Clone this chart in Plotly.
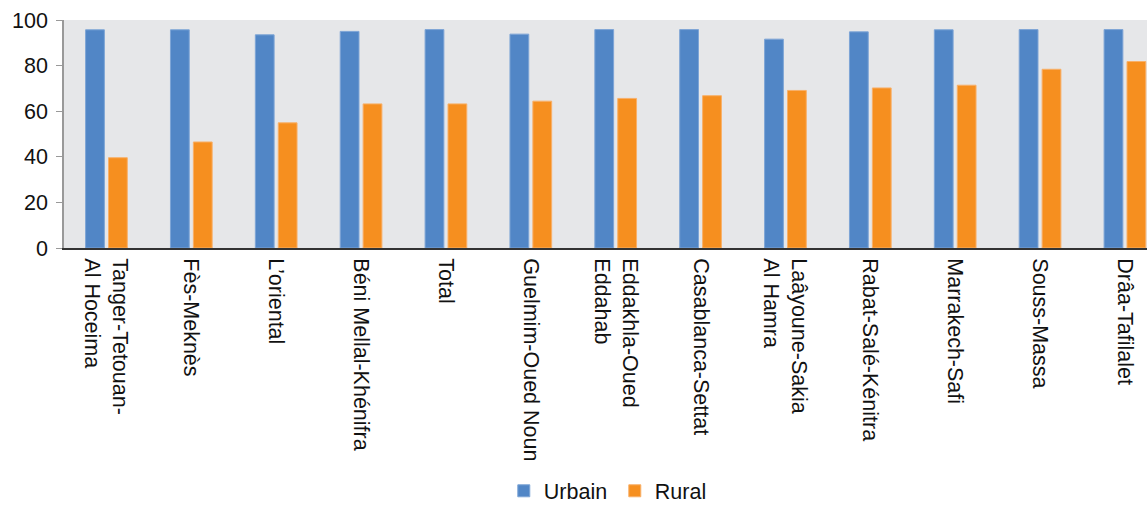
import plotly.graph_objects as go

categories = [
    "Tanger-Tetouan-<br>Al Hoceima", "Fès-Meknès", "L’oriental", "Béni Mellal-Khénifra",
    "Total", "Guelmim-Oued Noun", "Eddakhla-Oued<br>Eddahab", "Casablanca-Settat",
    "Laâyoune-Sakia<br>Al Hamra", "Rabat-Salé-Kénitra", "Marrakech-Safi",
    "Souss-Massa", "Drâa-Tafilalet",
]
urbain = [95.7, 95.7, 93.5, 95.0, 95.8, 93.8, 95.8, 95.8, 91.6, 94.8, 95.7, 95.8, 95.8]
rural = [39.6, 46.5, 54.9, 63.2, 63.2, 64.4, 65.6, 66.8, 69.1, 70.2, 71.4, 78.4, 81.8]

BLUE = "#5186c6"
ORANGE = "#f68f1f"
FONT = "Liberation Sans, Arial, sans-serif"

fig = go.Figure()
fig.add_trace(go.Bar(x=categories, y=urbain, name="Urbain", marker=dict(color=BLUE, line=dict(color="#7ea5d6", width=1))))
fig.add_trace(go.Bar(x=categories, y=rural, name="Rural", marker=dict(color=ORANGE, line=dict(color="#f8b069", width=1))))

fig.update_layout(
    width=1147, height=506,
    margin=dict(l=64, r=0, t=20, b=258, autoexpand=False),
    paper_bgcolor="white",
    plot_bgcolor="#e6e7e9",
    barmode="group",
    bargap=0.46,
    bargroupgap=0.18,
    font=dict(family=FONT, size=21.5, color="#111"),
    showlegend=True,
    legend=dict(orientation="h", xref="container", yref="container", x=0.536, xanchor="center",
                y=0.03, yanchor="middle", font=dict(size=21.5), itemwidth=30, entrywidth=66),
)
fig.update_xaxes(
    range=[-0.5, 12.26], tickangle=90, showline=True, linecolor="#333", linewidth=2,
    showgrid=False, ticks="", ticklabelstandoff=4,
)
fig.update_yaxes(
    range=[0, 100], dtick=20, showgrid=False, zeroline=False, showline=True,
    linecolor="#999", linewidth=1.5, ticks="outside", ticklen=6, tickcolor="#999",
    ticklabelstandoff=4,
)
fig.write_html("out.html", config={"displayModeBar": False},
               post_script="document.body.style.margin='0';document.body.style.overflow='hidden';")
